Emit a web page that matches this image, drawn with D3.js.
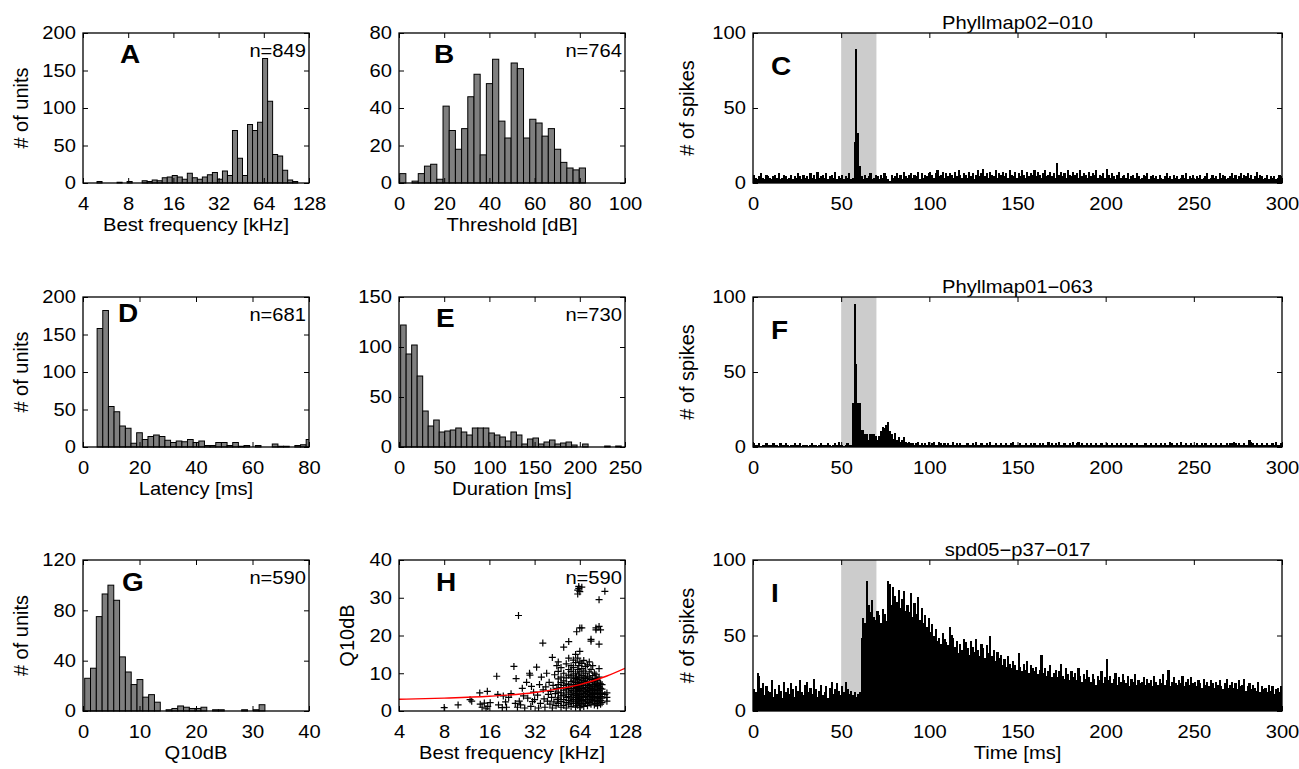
<!DOCTYPE html>
<html><head><meta charset="utf-8">
<script src="https://cdn.jsdelivr.net/npm/d3@7"></script>
<style>body{margin:0;background:#fff;}</style>
</head><body><svg id="fig" width="1299" height="769"></svg>
<script>
// ---------------- DATA ----------------
// A: best frequency histogram (log2 kHz bins)
const bfCounts = [2,0,0,0,1,0,2,0,0,3, 2,4,3,7,8,10,8,5,13,7, 5,8,11,14,5,16,10,70,33,10, 78,70,81,166,109,38,36,17,4,2];
const bfLog2Range = [2.31, 6.75];
// B: threshold histogram (dB)
const thrCounts = [5,0,1,5,9,10,2,41,28,18, 29,46,58,15,53,66,33,24,64,61, 24,34,32,25,29,18,11,8,7,8];
const thrRange = [0.3, 82.5];
// D: latency histogram (ms)
const latCounts = [158,182,54,47,28,25,5,19,10,14, 16,14,9,6,8,7,10,6,8,2, 2,6,6,2,6,1,2,0,2,0, 0,4,1,1,0,2,3,10];
const latRange = [5, 81];
// E: duration histogram (ms)
const durCounts = [122,93,102,71,36,21,27,15,16,17, 19,15,12,19,19,19,14,12,10,6, 15,12,3,8,9,3,5,7,3,4, 5,2,0,3,0,0,0,1,0,1];
const durRange = [1.8, 245.8];
// G: Q10dB histogram
const q10Counts = [26,34,75,93,100,88,43,31,21,25, 11,13,7,0,1,2,4,3,2,2, 3,0,1,1,0,0,0,1,0,1, 5];
const q10Range = [0.3, 32.2];

// H: scatter of Q10dB vs best frequency (kHz)
const hLowPoints = [
 [8,0.9],[9.9,1.6],[11.9,3.0],[12.2,2.6],[13.8,4.8],[13.9,1.8],[14.3,1.0],[14.8,2.1],[15.2,0.6],[15.5,5.2],[15.6,1.2],[16.2,2.2],[17.9,9.2],[18.2,4.4],[18.4,1.6],[19.5,0.9],[19.8,4.0],[20.5,2.4],[20.8,1.0],
 [21.5,3.6],[22.3,4.6],[23.3,11.8],[23.8,2.0],[24.1,8.6],[24.6,1.0],[25,25.3],[25.3,2.6],[25.8,1.6],[26.5,6.0],[27,4.0],[27.5,0.8],[28.3,7.6],[28.8,3.4],[29.6,10.0],[29.8,9.5],[30.2,1.2],[30.5,6.5],[31,2.5],[31.5,5.0],[32,3.0],
 [33,11.6],[33.5,4.2],[34,0.8],[34.5,7.0],[35,2.0],[35.5,9.0],[36.3,18],[36.5,5.6],[37,3.2],[37.5,1.0],[38,6.4],[38.5,10.0],[39,2.6],[39.5,4.4],[40,7.6],[40.5,1.8],[41,5.2],[41.5,3.6],[42,14.2],[42,0.8],[42.5,6.8],[43,2.4],[43.5,9.6],[44,4.6],[44.5,1.4],[45,12.0],[45,6.0],[45.5,3.0]
];
const hBandPoints = [
 [46,[2.0,3.5,5.0,7.0,8.5,10.5,13.0]],
 [48,[1.0,2.5,4.0,4.8,6.2,7.5,9.0,11.5]],
 [50,[1.5,3.0,4.2,5.5,6.8,8.0,10.0,16.9]],
 [52,[0.8,2.2,3.6,4.5,5.8,7.2,8.8,12.5]],
 [54,[1.8,2.8,3.8,5.0,6.0,7.0,9.5,11.0,14.0,18.4]],
 [56,[1.2,2.4,3.4,4.4,5.4,6.5,7.8,9.0,10.5,12.0]],
 [58,[2.0,3.0,4.0,5.0,6.0,7.0,8.0,9.5,11.5,13.5]],
 [60,[1.0,2.6,3.6,4.6,5.6,6.6,7.6,8.6,10.0,12.8,15.0]],
 [61,[21.0,2.0,4.2,6.2,9.0]],
 [62,[1.5,3.0,4.0,5.2,6.4,7.4,8.4,11.0,14.0,31.0,32.0]],
 [63,[2.4,3.4,5.8,7.0,9.8,12.0,32.5,33.0]],
 [64,[1.0,2.0,3.2,4.4,5.4,6.4,7.6,8.8,10.4,13.0,15.8,22.0,31.6]],
 [66,[1.6,2.8,3.8,4.8,6.0,7.2,8.2,9.4,11.2,12.6,22.0,32.8]],
 [68,[1.2,2.4,3.6,4.6,5.6,6.8,8.0,9.0,10.6,13.4]],
 [70,[2.0,3.0,4.2,5.2,6.2,7.4,8.6,10.0,11.8]],
 [72,[1.4,2.6,3.8,4.8,5.8,6.8,7.8,9.2,12.2]],
 [74,[2.2,3.4,4.4,5.4,6.4,7.6,8.8,10.4,13.0]],
 [76,[1.8,3.0,4.0,5.0,6.0,7.0,8.4,11.0,19.0,18.5]],
 [78,[2.6,3.6,4.6,5.6,6.6,7.8,9.4,12.0]],
 [80,[1.6,2.8,3.8,4.8,5.8,7.0,8.0,10.0]],
 [82,[2.0,3.2,4.4,5.4,6.4,7.4,8.6,9.6,21.5,22.0]],
 [84,[1.4,2.6,3.6,4.6,5.6,6.8,8.2]],
 [86,[2.4,3.4,4.4,5.4,6.4,7.4,9.0,11.2,22.4,17.7,29.5]],
 [88,[1.8,2.8,3.8,4.8,6.0,7.2,21.5]],
 [90,[2.2,3.4,4.6,5.8,7.0]],
 [94,[31.7,4.4]],
 [97,[2.6,3.6,4.8]]
];
const fitBF = [4,8,16,32,48,64,96,128];
const fitQ  = [3.1,3.4,3.9,4.9,6.0,7.0,9.2,11.3];

// C, F, I: PSTHs (1 ms bins, 0-300 ms)
const psthC = [5,3,2,4,6,3,2,5,4,3, 2,4,5,3,6,2,3,5,4,2, 3,5,2,4,3,6,4,2,5,3, 4,2,6,3,5,2,7,3,4,5, 3,6,2,4,5,3,7,2,4,3,
 5,2,4,3,6,2,3,27,89,33, 11,4,2,5,3,4,6,2,3,5, 4,2,5,3,6,4,2,1,5,3, 4,6,3,5,2,7,4,3,5,6, 3,5,4,7,2,6,3,5,4,6,
 7,5,3,6,8,4,5,7,3,6, 4,6,5,3,7,4,8,5,3,6, 5,3,7,4,6,2,5,8,4,6, 9,4,6,3,7,5,4,8,3,6, 5,7,4,6,3,8,5,4,7,3,
 6,4,8,5,3,7,4,6,5,8, 4,7,5,3,6,8,4,5,7,4, 6,3,13,5,7,4,6,3,8,5, 4,7,5,6,3,8,4,6,5,3, 7,4,6,5,8,3,5,4,6,3,
 9,5,3,6,4,2,5,7,3,4, 5,3,6,2,4,5,3,6,4,2, 3,5,4,6,2,4,5,3,4,2, 5,3,2,4,6,3,4,2,5,3, 4,2,3,5,3,6,2,4,3,5,
 2,4,3,5,2,3,4,6,2,3, 5,3,4,2,6,3,5,4,2,3, 4,6,3,5,2,4,6,3,5,4, 6,3,5,2,4,7,3,5,4,2, 3,5,2,4,3,4,2,3,5,4];
const psthF = [2,1,1,2,0,1,1,2,1,1, 1,2,1,1,0,2,1,1,2,1, 0,1,1,2,1,1,2,0,1,1, 1,0,1,2,1,1,0,1,2,1, 1,1,2,1,0,1,2,1,3,1,
 1,0,1,2,1,1,29,95,55,29, 29,11,11,8,8,4,8,8,8,7, 4,7,10,13,12,14,16,10,8,5, 9,4,6,3,4,6,3,2,3,2, 2,1,2,3,1,2,1,2,1,3,
 1,2,3,1,1,3,2,1,2,1, 2,1,1,3,1,2,1,2,1,1, 1,2,1,1,2,1,3,1,1,2, 1,1,2,1,3,1,1,2,1,1, 2,1,1,2,1,1,2,3,1,1,
 1,2,1,1,2,1,1,2,1,2, 1,1,2,1,2,1,1,3,1,2, 1,2,1,3,1,1,2,1,1,2, 1,3,1,2,3,1,2,1,1,2, 1,2,1,1,2,1,1,2,1,1,
 2,1,1,2,1,1,2,1,2,1, 1,2,1,1,2,1,1,2,1,1, 1,1,2,1,1,2,1,1,2,1, 1,2,1,2,1,1,3,2,1,1, 2,1,3,1,1,2,1,1,2,1,
 1,2,1,1,2,1,2,1,1,2, 1,1,2,1,1,2,1,1,2,1, 2,2,3,2,1,2,1,1,2,1, 1,4,3,2,1,2,1,1,2,1, 1,2,1,1,2,1,3,1,1,2];
const psthI = [14,12,25,23,15,18,10,16,13,12, 20,9,14,11,17,13,8,19,12,15, 11,18,14,9,16,13,20,12,10,17, 19,12,15,11,21,14,9,13,17,10, 12,16,8,15,19,11,14,18,13,10,
 16,12,19,14,11,13,10,12,9,11, 12,48,61,58,86,70,65,73,62,60, 66,63,58,67,64,59,86,84,70,82, 76,72,80,68,74,79,66,70,65,78, 62,71,64,75,60,68,58,63,55,61,
 52,57,49,54,46,48,44,51,47,45, 43,55,50,48,42,46,38,44,40,47, 45,41,37,46,42,39,47,40,36,44, 41,35,43,38,49,36,40,33,39,35, 37,30,34,29,36,31,28,33,30,27,
 38,29,26,31,27,33,25,30,28,26, 29,24,27,37,25,28,23,26,30,22, 25,27,22,26,31,23,21,28,24,20, 26,22,25,20,28,23,19,24,21,27, 22,19,24,21,17,23,20,26,18,22,
 34,20,23,18,21,25,17,22,19,24, 20,18,23,16,21,19,24,17,20,18, 19,22,17,21,18,20,16,23,19,17, 21,18,24,17,20,27,16,19,22,18, 17,20,18,23,16,19,21,17,22,18,
 19,16,20,18,15,21,17,19,16,20, 18,15,19,17,20,16,14,18,21,15, 17,19,15,18,14,20,16,17,21,13, 16,18,14,17,15,13,19,12,16,14, 15,12,17,13,16,11,14,15,12,16];
const stimWindow = [50, 70];

const freqTicks = [4,8,16,32,64,128];
const titles = ["Phyllmap02\u2212010", "Phyllmap01\u2212063", "spd05\u2212p37\u2212017"];
const nLabels = {A:"n=849", B:"n=764", D:"n=681", E:"n=730", G:"n=590", H:"n=590"};

// ---------------- DRAWING ----------------
const svg = d3.select("#fig");
const FONT = '"Liberation Sans", Arial, Helvetica, sans-serif';
const FS = 18;          // horizontal texts
const SX = 1.12;        // horizontal glyph widening seen in the reference
const FSR = 20;         // rotated axis labels
const COLS = {L:[83,309], M:[399,625], R:[753,1282]};
const ROWS = [[33,183],[297,447],[560,711]];
let clipN = 0;

function addText(x, y, s, o = {}) {
  const t = svg.append("text").text(s)
    .attr("font-family", FONT).attr("font-size", o.size || FS).attr("fill", "#000")
    .attr("text-anchor", o.anchor || "start");
  if (o.bold) t.attr("font-weight", "bold");
  if (o.rotate) t.attr("font-size", o.size || FSR).attr("transform", `translate(${x},${y}) rotate(-90)`);
  else t.attr("transform", `translate(${x},${y}) scale(${SX},1)`);
  return t;
}
function clipGroup(x0, x1, y0, y1) {
  const id = "clip" + (clipN++);
  svg.append("clipPath").attr("id", id).append("rect")
    .attr("x", x0).attr("y", y0).attr("width", x1 - x0).attr("height", y1 - y0);
  return svg.append("g").attr("clip-path", `url(#${id})`);
}
function frame(x, y, xt, yt) {
  const [x0, x1] = x.range(); const [yb, yt0] = y.range();
  const g = svg.append("g");
  const gb = g.append("g").attr("transform", `translate(0,${yb})`)
    .call(d3.axisBottom(x).tickValues(xt).tickSize(-5).tickSizeOuter(0).tickPadding(14).tickFormat(d3.format("d")));
  g.append("g").attr("transform", `translate(0,${yt0})`)
    .call(d3.axisTop(x).tickValues(xt).tickSize(-5).tickSizeOuter(0).tickFormat(""));
  const gl = g.append("g").attr("transform", `translate(${x0},0)`)
    .call(d3.axisLeft(y).tickValues(yt).tickSize(-5).tickSizeOuter(0).tickPadding(7).tickFormat(d3.format("d")));
  g.append("g").attr("transform", `translate(${x1},0)`)
    .call(d3.axisRight(y).tickValues(yt).tickSize(-5).tickSizeOuter(0).tickFormat(""));
  g.selectAll(".domain").remove();
  g.selectAll(".tick line").attr("stroke", "#000").attr("stroke-width", 1);
  g.selectAll("text").attr("font-size", FS).attr("font-family", FONT).attr("fill", "#000")
    .attr("transform", `scale(${SX},1)`);
  gl.selectAll("text").attr("x", -7 / SX);
  g.append("rect").attr("x", x0).attr("y", yt0).attr("width", x1 - x0).attr("height", yb - yt0)
    .attr("fill", "none").attr("stroke", "#000").attr("stroke-width", 1.3);
}
function histogram(x, y, counts, range, edgeFn) {
  const [x0, x1] = x.range(); const [yb, yt0] = y.range();
  const g = clipGroup(x0, x1, yt0 - 1, yb + 1);
  const w = (range[1] - range[0]) / counts.length;
  g.selectAll("rect").data(counts).join("rect")
    .attr("x", (d, i) => x(edgeFn(range[0] + i * w)))
    .attr("width", (d, i) => x(edgeFn(range[0] + (i + 1) * w)) - x(edgeFn(range[0] + i * w)))
    .attr("y", d => y(d)).attr("height", d => yb - y(d))
    .attr("fill", "#7f7f7f").attr("stroke", "#000").attr("stroke-width", 1);
}
function letter(L, x0, top, dx, dy) { addText(x0 + dx, top + dy, L, {bold: true, size: 25}); }
function nLab(s, x1, top) { addText(x1 - 3, top + 24, s, {anchor: "end"}); }
function xLab(s, x0, x1, bottom) { addText((x0 + x1) / 2, bottom + 48, s, {anchor: "middle"}); }
function yLab(s, xb, top, bottom) { addText(xb, (top + bottom) / 2, s, {anchor: "middle", rotate: true}); }

const lin = d => d, pow2 = d => Math.pow(2, d);

// Panel A
{
  const [x0, x1] = COLS.L, [t, b] = ROWS[0];
  const x = d3.scaleLog().base(2).domain([4, 128]).range([x0, x1]);
  const y = d3.scaleLinear().domain([0, 200]).range([b, t]);
  histogram(x, y, bfCounts, bfLog2Range, pow2);
  frame(x, y, freqTicks, [0, 50, 100, 150, 200]);
  letter("A", x0, t, 37, 30); nLab(nLabels.A, x1, t);
  xLab("Best frequency [kHz]", x0, x1, b); yLab("# of units", 28, t, b);
}
// Panel B
{
  const [x0, x1] = COLS.M, [t, b] = ROWS[0];
  const x = d3.scaleLinear().domain([0, 100]).range([x0, x1]);
  const y = d3.scaleLinear().domain([0, 80]).range([b, t]);
  histogram(x, y, thrCounts, thrRange, lin);
  frame(x, y, [0, 20, 40, 60, 80, 100], [0, 20, 40, 60, 80]);
  letter("B", x0, t, 35, 30); nLab(nLabels.B, x1, t);
  xLab("Threshold [dB]", x0, x1, b);
}
// Panel D
{
  const [x0, x1] = COLS.L, [t, b] = ROWS[1];
  const x = d3.scaleLinear().domain([0, 80]).range([x0, x1]);
  const y = d3.scaleLinear().domain([0, 200]).range([b, t]);
  histogram(x, y, latCounts, latRange, lin);
  frame(x, y, [0, 20, 40, 60, 80], [0, 50, 100, 150, 200]);
  letter("D", x0, t, 35, 25); nLab(nLabels.D, x1, t);
  xLab("Latency [ms]", x0, x1, b); yLab("# of units", 28, t, b);
}
// Panel E
{
  const [x0, x1] = COLS.M, [t, b] = ROWS[1];
  const x = d3.scaleLinear().domain([0, 250]).range([x0, x1]);
  const y = d3.scaleLinear().domain([0, 150]).range([b, t]);
  histogram(x, y, durCounts, durRange, lin);
  frame(x, y, [0, 50, 100, 150, 200, 250], [0, 50, 100, 150]);
  letter("E", x0, t, 37, 30); nLab(nLabels.E, x1, t);
  xLab("Duration [ms]", x0, x1, b);
}
// Panel G
{
  const [x0, x1] = COLS.L, [t, b] = ROWS[2];
  const x = d3.scaleLinear().domain([0, 40]).range([x0, x1]);
  const y = d3.scaleLinear().domain([0, 120]).range([b, t]);
  histogram(x, y, q10Counts, q10Range, lin);
  frame(x, y, [0, 10, 20, 30, 40], [0, 40, 80, 120]);
  letter("G", x0, t, 39, 31); nLab(nLabels.G, x1, t);
  xLab("Q10dB", x0, x1, b); yLab("# of units", 28, t, b);
}
// Panel H
{
  const [x0, x1] = COLS.M, [t, b] = ROWS[2];
  const x = d3.scaleLog().base(2).domain([4, 128]).range([x0, x1]);
  const y = d3.scaleLinear().domain([0, 40]).range([b, t]);
  const g = clipGroup(x0, x1, t, b);
  const pts = hLowPoints.concat(hBandPoints.flatMap(([f, qs]) => qs.map(q => [f, q])));
  g.selectAll("path.pt").data(pts).join("path").attr("class", "pt")
    .attr("d", d => { const px = x(d[0]), py = y(d[1]); return `M${px - 3.5},${py}h7M${px},${py - 3.5}v7`; })
    .attr("stroke", "#000").attr("stroke-width", 1.2).attr("fill", "none");
  const line = d3.line().x(d => x(d[0])).y(d => y(d[1])).curve(d3.curveMonotoneX);
  g.append("path").datum(fitBF.map((f, i) => [f, fitQ[i]])).attr("d", line)
    .attr("fill", "none").attr("stroke", "#ff0000").attr("stroke-width", 1.4);
  frame(x, y, freqTicks, [0, 10, 20, 30, 40]);
  letter("H", x0, t, 37, 31); nLab(nLabels.H, x1, t);
  xLab("Best frequency [kHz]", x0, x1, b); yLab("Q10dB", 354, t, b);
}
// Panels C, F, I (PSTHs)
[[psthC, "C"], [psthF, "F"], [psthI, "I"]].forEach(([data, L], r) => {
  const [x0, x1] = COLS.R, [t, b] = ROWS[r];
  const x = d3.scaleLinear().domain([0, 300]).range([x0, x1]);
  const y = d3.scaleLinear().domain([0, 100]).range([b, t]);
  const g = clipGroup(x0, x1, t, b);
  g.append("rect").attr("x", x(stimWindow[0])).attr("width", x(stimWindow[1]) - x(stimWindow[0]))
    .attr("y", t).attr("height", b - t).attr("fill", "#cccccc");
  g.selectAll("rect.bar").data(data).join("rect").attr("class", "bar")
    .attr("x", (d, i) => x(i)).attr("width", (d, i) => x(i + 1) - x(i) + 0.4)
    .attr("y", d => y(d) - 0.6).attr("height", d => b - y(d) + 0.6)
    .attr("fill", "#000").attr("shape-rendering", "crispEdges");
  frame(x, y, [0, 50, 100, 150, 200, 250, 300], [0, 50, 100]);
  letter(L, x0, t, 18, 42);
  addText((x0 + x1) / 2, t - 4, titles[r], {anchor: "middle"});
  yLab("# of spikes", 694, t, b);
  if (r === 2) xLab("Time [ms]", x0, x1, b);
});
</script></body></html>
